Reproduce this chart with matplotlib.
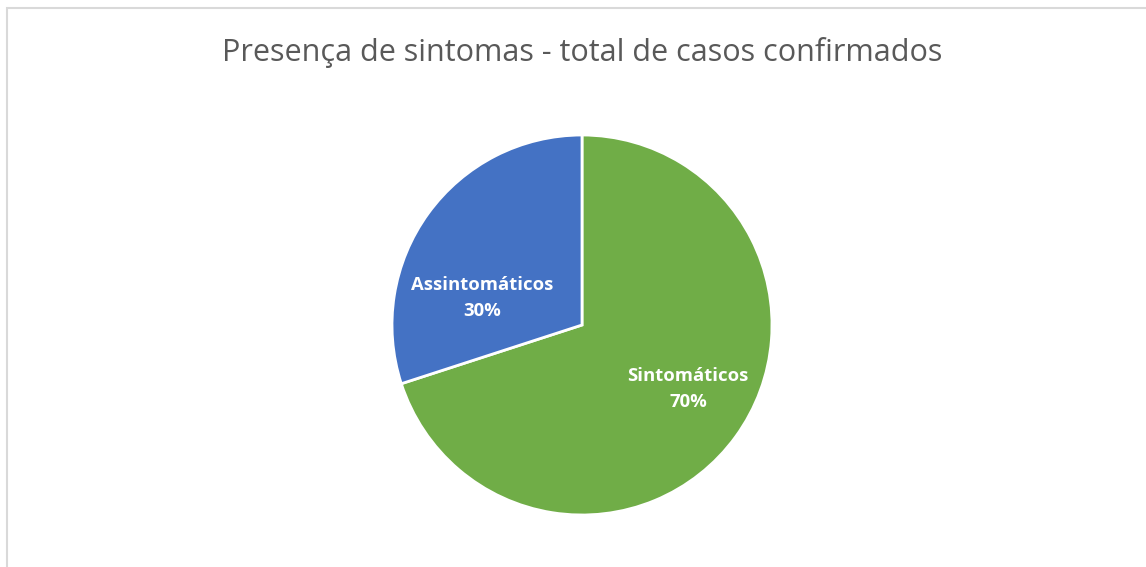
import matplotlib.pyplot as plt
from matplotlib.patches import Rectangle

categories = ["Sintomáticos", "Assintomáticos"]
values = [70, 30]
colors = ["#70AD47", "#4472C4"]
title = "Presença de sintomas - total de casos confirmados"

W, H = 1146, 567
fig = plt.figure(figsize=(W / 100, H / 100), dpi=100)

# light frame like the Excel chart area
fig.patches.append(Rectangle((7 / W, -0.1), 1.2, (H - 8) / H + 0.1, transform=fig.transFigure,
                             fill=False, edgecolor="#d9d9d9", linewidth=1.5))

cx, cy, r = 582, H - 325, 190
ax = fig.add_axes([(cx - r) / W, (cy - r) / H, 2 * r / W, 2 * r / H])
wedges, _ = ax.pie(values, colors=colors, startangle=90, counterclock=False, radius=1,
                   wedgeprops=dict(edgecolor="white", linewidth=2))
ax.set_xlim(-1, 1)
ax.set_ylim(-1, 1)
ax.set_aspect("equal")
ax.axis("off")

# label positions (Excel best fit), in radius units
label_pos = [(0.558, -0.337), (-0.526, 0.142)]
for name, v, (x, y) in zip(categories, values, label_pos):
    ax.text(x, y, f"{name}\n{v}%", ha="center", va="center", color="white",
            fontsize=13.3, fontweight="bold", family="Open Sans", linespacing=1.6)

fig.text(582 / W, 1 - 53 / H, title, ha="center", va="center", color="#595959",
         fontsize=22, family="Open Sans")

plt.savefig("out.png", dpi=100)
